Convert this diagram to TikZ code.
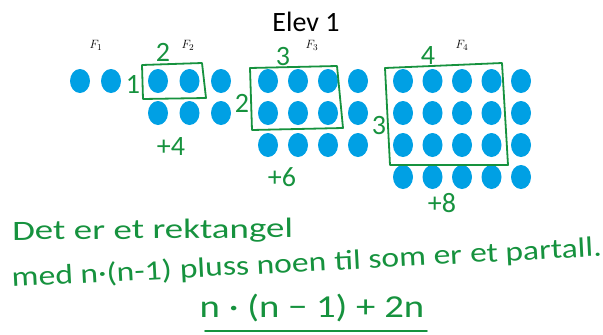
\documentclass[tikz,border=0pt]{standalone}
\usepackage{fontspec}
\setmainfont{Carlito}
\usetikzlibrary{calc}
\definecolor{dotblue}{RGB}{0,160,228}
\definecolor{pen}{RGB}{22,146,62}
\begin{document}
\begin{tikzpicture}[x=1pt,y=-1pt,line join=round,line cap=round,
	dot/.style={fill=dotblue},
	ink/.style={draw=pen,line width=1.8pt},
	hand/.style={text=pen,inner sep=0pt,font=\fontsize{28}{30}\selectfont},
	slope/.style={hand,anchor=base west,rotate=3,xscale=1.2},
	flabel/.style={inner sep=0pt,font=\fontsize{13}{15}\selectfont}]
	\useasboundingbox (0,0) rectangle (603,335);
	\node[inner sep=0pt,font=\fontsize{28}{32}\selectfont] (title) at (306,22) {Elev 1};
	% figures: first x / step / columns / rows
	\foreach \s/\d/\c/\r in {80/31/2/1,158/31.5/3/2,268/30/4/3,403/29.5/5/4}
	\foreach \j in {1,...,\r}
	\foreach \i in {1,...,\c}
	\fill[dot] ({\s+(\i-1)*\d},{81+(\j-1)*32}) ellipse [x radius=10,y radius=12];
	\foreach \p/\x in {1/96,2/188,3/312,4/462}
	\node[flabel] (F\p) at (\x,45) {$F_{\p}$};
	% rectangles
	\draw[ink] (142,65)--(202,63)--(206,98)--(143,99)--cycle;
	\draw[ink] (250,68)--(337,66)--(343,128)--(252,130)--cycle;
	\draw[ink] (385,68)--(502,63)--(508,165)--(390,165)--cycle;
	\foreach \t/\x/\y [count=\n] in {1/133/84,2/163/52,2/242/103,3/283/57,3/379/126,4/428/56,+4/171/147,+6/282/177,+8/442/203}
	\node[hand] (lab\n) at (\x,\y) {\t};
	% text
	\node[hand,anchor=base west,rotate=0.5,xscale=1.32] (line1) at (12,240) {Det er et rektangel};
	\node[slope] (med) at (12,287) {med n·(n-1)};
	\node[slope] (pluss) at ($(med.base east)+(-3:7.6)$) {pluss noen};
	\node[slope] (som) at ($(pluss.base east)+(-3:7.6)$) {til som er};
	\node[slope] (partall) at ($(som.base east)+(-3:7.6)$) {et partall.};
	\node[hand,font=\fontsize{32}{36}\selectfont,xscale=1.21,anchor=base] (formula) at (312,317) {n · (n − 1) + 2n};
	\draw[ink] (205,331)--(427,331);
\end{tikzpicture}
\end{document}
